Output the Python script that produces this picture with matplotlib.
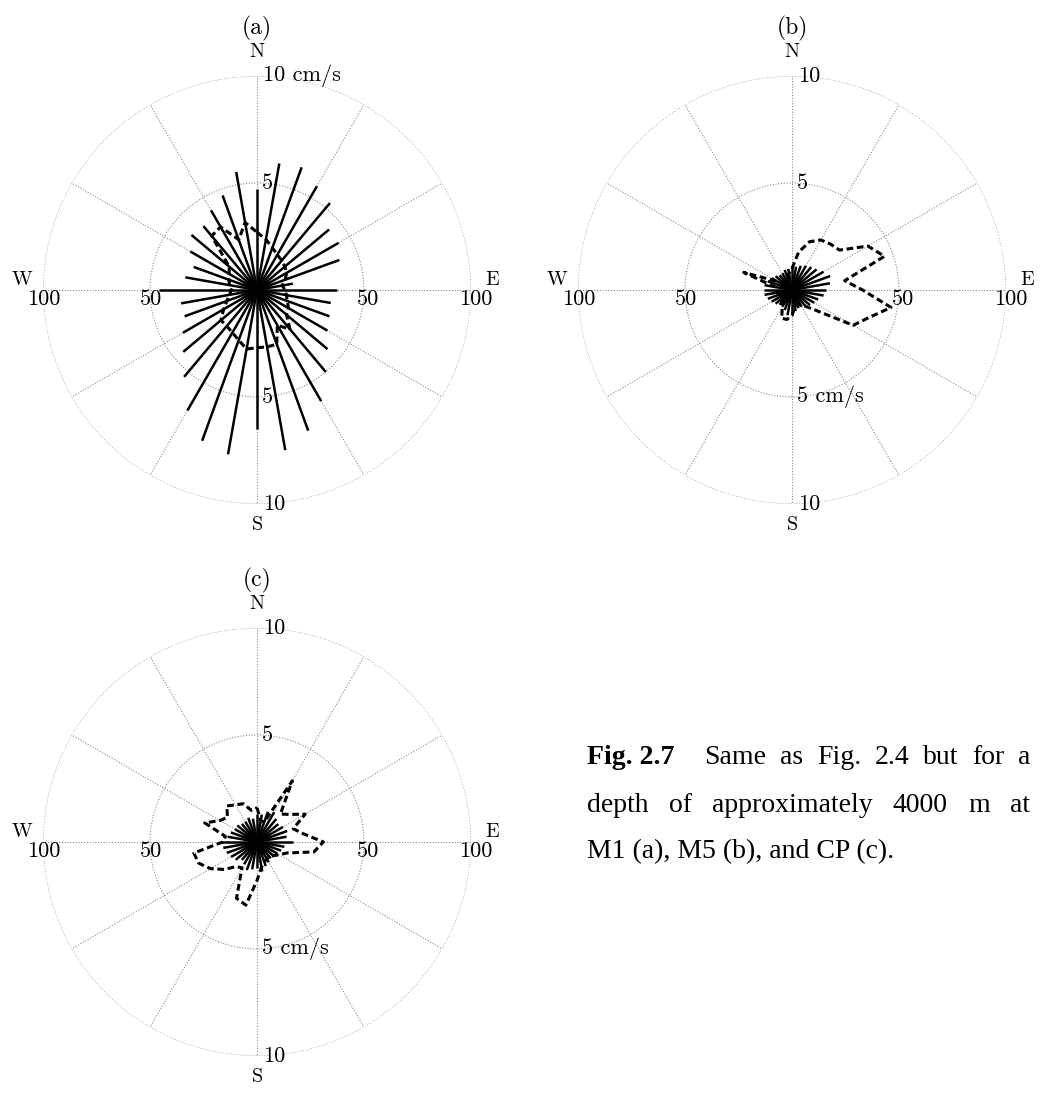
import numpy as np
import matplotlib
matplotlib.use("Agg")
import matplotlib.pyplot as plt

# direction bins (degrees clockwise from north)
directions = np.arange(0, 360, 10)

# mean speed per direction bin (cm/s)
speed_a = [4.7, 6.0, 6.1, 5.6, 5.3, 4.4, 4.4, 4.1, 1.7, 3.75, 3.5, 3.6,
           3.8, 4.3, 5.0, 6.0, 7.0, 7.6, 6.5, 7.8, 7.5, 6.5, 5.3, 4.5,
           4.0, 3.6, 3.6, 4.6, 3.4, 3.15, 3.6, 4.0, 3.9, 4.3, 4.7, 5.6]
speed_b = [1.1, 1.1, 1.2, 1.3, 1.4, 1.5, 1.7, 1.9, 1.8, 1.6, 1.5, 1.3,
           1.2, 1.1, 1.0, 0.9, 0.9, 1.0, 1.1, 1.2, 1.0, 0.9, 0.9, 1.0,
           1.1, 1.2, 1.3, 1.3, 1.3, 1.2, 1.1, 1.0, 0.9, 0.9, 1.0, 1.0]
speed_c = [1.3, 1.3, 1.5, 1.6, 1.4, 1.3, 1.4, 1.5, 1.4, 1.7, 1.3, 1.2,
           1.1, 1.0, 1.0, 1.1, 1.2, 1.4, 1.2, 1.3, 1.4, 1.2, 1.1, 1.3,
           1.4, 1.5, 1.6, 1.7, 1.4, 1.3, 1.2, 1.2, 1.1, 1.1, 1.2, 1.1]

# frequency of occurrence per direction bin
freq_a = [27, 24, 21, 19, 18, 17, 16, 14, 12, 13, 14, 15,
          17, 18, 24, 19, 27, 27, 27, 28, 25, 23, 22, 22,
          18, 15, 13, 12, 13, 14, 15, 17, 33, 34, 25, 32]
freq_b = [10, 18, 24, 27, 28, 29, 41, 46, 25, 33, 47, 38,
          33, 15, 10, 8, 7, 8, 12, 14, 14, 9, 7, 7,
          6, 6, 7, 8, 8, 24, 8, 6, 5, 5, 6, 8]
freq_c = [16, 10, 10, 33, 17, 20, 26, 18, 22, 31, 27, 15,
          12, 10, 9, 9, 10, 12, 18, 30, 28, 14, 15, 20,
          25, 29, 30, 16, 15, 26, 20, 18, 22, 20, 19, 15]

panels = [
    ("(a)", speed_a, freq_a, "10 cm/s", "5", "5", "10"),
    ("(b)", speed_b, freq_b, "10", "5", "5 cm/s", "10"),
    ("(c)", speed_c, freq_c, "10", "5", "5 cm/s", "10"),
]

# axes boxes in figure fraction: left, bottom, width, height
boxes = [
    [0.0413, 0.5389, 0.4107, 0.3916],
    [0.5547, 0.5389, 0.4107, 0.3916],
    [0.0413, 0.0339, 0.4107, 0.3916],
]

caption = [
    [("Fig. 2.7", "bold"), ("Same", "normal"), ("as", "normal"), ("Fig.", "normal"),
     ("2.4", "normal"), ("but", "normal"), ("for", "normal"), ("a", "normal")],
    [("depth", "normal"), ("of", "normal"), ("approximately", "normal"),
     ("4000", "normal"), ("m", "normal"), ("at", "normal")],
    "M1 (a), M5 (b), and CP (c).",
]

W, H = 1042, 1093
fig = plt.figure(figsize=(W / 100, H / 100), dpi=100)
cm_font = "cmr10"
lab = 16
grid_kw = dict(color="0.55", linestyle=(0, (1, 1.5)), linewidth=0.8)

for (tag, speed, freq, top_out, top_in, bot_in, bot_out), box in zip(panels, boxes):
    ax = fig.add_axes(box, projection="polar")
    ax.set_theta_zero_location("N")
    ax.set_theta_direction(-1)
    ax.set_ylim(0, 100)
    ax.grid(False)
    ax.set_xticks([])
    ax.set_yticks([])
    ax.spines["polar"].set_visible(False)

    # range rings and 30-degree spokes
    ring = np.linspace(0, 2 * np.pi, 361)
    for r in (50, 100):
        ax.plot(ring, np.full_like(ring, r), **grid_kw, zorder=1)
    for a in np.deg2rad(np.arange(0, 360, 30)):
        ax.plot([a, a], [0, 100], **grid_kw, zorder=1)

    theta = np.deg2rad(directions)
    # speed spokes, 10 cm/s maps to the outer ring
    ax.vlines(theta, 0, np.array(speed) * 10, colors="k", linewidth=1.8, zorder=3)
    # frequency polygon, 100 maps to the outer ring
    ax.plot(np.append(theta, theta[0]), np.append(freq, freq[0]),
            color="k", linestyle=(0, (2.2, 1.2)), linewidth=2.2, zorder=4)

    # speed labels along the north-south line
    ax.text(0.03, 100, top_out, fontfamily=cm_font, fontsize=lab,
            ha="left", va="center", zorder=5)
    ax.text(0.05, 50, top_in, fontfamily=cm_font, fontsize=lab,
            ha="left", va="center", zorder=5)
    ax.text(np.pi - 0.05, 50, bot_in, fontfamily=cm_font, fontsize=lab,
            ha="left", va="center", zorder=5)
    ax.text(np.pi - 0.03, 100, bot_out, fontfamily=cm_font, fontsize=lab,
            ha="left", va="center", zorder=5)

    # frequency labels along the east-west line
    for r, txt in ((50, "50"), (100, "100")):
        ax.text(np.pi / 2, r + 2, txt, fontfamily=cm_font, fontsize=lab,
                ha="center", va="top", zorder=5)
        ax.text(3 * np.pi / 2, r - 0.5, txt, fontfamily=cm_font, fontsize=lab,
                ha="center", va="top", zorder=5)

    # compass points
    ax.text(0, 111, "N", fontfamily=cm_font, fontsize=14.5, ha="center", va="center")
    ax.text(np.pi, 110, "S", fontfamily=cm_font, fontsize=14.5, ha="center", va="center")
    ax.text(np.deg2rad(87.5), 110, "E", fontfamily=cm_font, fontsize=14.5, ha="center", va="center")
    ax.text(np.deg2rad(272.5), 110, "W", fontfamily=cm_font, fontsize=14.5, ha="center", va="center")
    ax.text(0, 122, tag, fontfamily=cm_font, fontsize=17, ha="center", va="center")

# caption, first two lines justified between x0 and x1
cap_font = dict(fontfamily="Liberation Serif", fontsize=20)
x0, x1 = 587, 1030
line_y = [758, 805, 852]
first_gap = [30, None]
renderer = fig.canvas.get_renderer()
for words, y, fg in zip(caption[:2], line_y[:2], first_gap):
    items = [fig.text(0, 1 - y / H, w, fontweight=wt, ha="left", va="center", **cap_font)
             for w, wt in words]
    widths = [t.get_window_extent(renderer).width for t in items]
    n_gaps = len(items) - 1
    free = x1 - x0 - sum(widths)
    if fg is None:
        gaps = [free / n_gaps] * n_gaps
    else:
        gaps = [fg] + [(free - fg) / (n_gaps - 1)] * (n_gaps - 1)
    x = x0
    for i, (t, w) in enumerate(zip(items, widths)):
        t.set_x(x / W)
        if i < n_gaps:
            x += w + gaps[i]
fig.text(x0 / W, 1 - line_y[2] / H, caption[2], ha="left", va="center", **cap_font)

fig.savefig("out.png", dpi=100)
